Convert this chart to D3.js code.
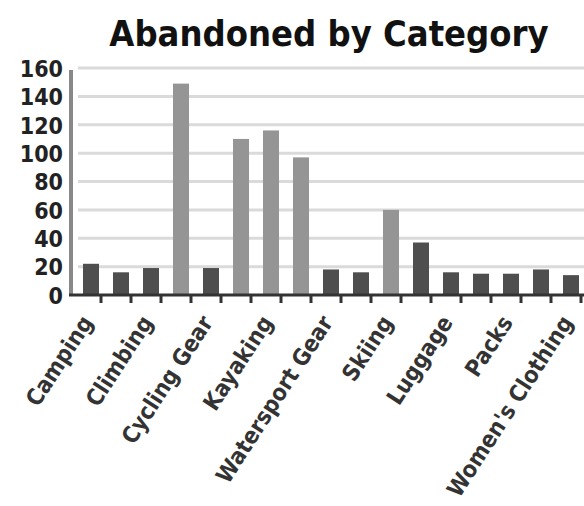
<!DOCTYPE html>
<html>
<head>
<meta charset="utf-8">
<script src="https://cdn.jsdelivr.net/npm/d3@7"></script>
<style>
  body { margin: 0; background: #fff; }
  text { font-family: "Liberation Sans Narrow", "Arial Narrow", "DejaVu Sans Condensed", "DejaVu Sans", sans-serif; font-stretch: condensed; font-weight: bold; fill: #222; }
</style>
</head>
<body>
<div id="chart"></div>
<script>
// categories, only every other one gets a label on the axis
var categories = ["Camping", "Canoeing", "Climbing", "Cycling", "Cycling Gear", "Fishing",
  "Kayaking", "Mountaineering", "Watersport Gear", "Hiking", "Skiing", "Snowboarding",
  "Luggage", "Navigation", "Packs", "Men's Clothing", "Women's Clothing"];
var abandoned = [22, 16, 19, 149, 19, 110, 116, 97, 18, 16, 60, 37, 16, 15, 15, 18, 14];
var yTicks = [0, 20, 40, 60, 80, 100, 120, 140, 160];
var title = "Abandoned by Category";

var width = 584, height = 506;
var svg = d3.select("#chart").append("svg")
  .attr("width", width)
  .attr("height", height);

var data = categories.map(function(c, i) { return {cat: c, val: abandoned[i]}; });

var xScale = d3.scaleBand().domain(categories).range([71, 581]).paddingInner(0).paddingOuter(0);
var yScale = d3.scaleLinear().domain([0, 160]).range([295, 68]);

// title
svg.append("text")
  .attr("x", 329)
  .attr("y", 46)
  .attr("text-anchor", "middle")
  .style("font-size", "36px")
  .style("fill", "#111")
  .text(title);

// gridlines
svg.append("g").attr("id", "grid")
  .selectAll("line")
  .data(yTicks.filter(function(d) { return d > 0; }))
  .enter()
  .append("line")
  .attr("x1", 78)
  .attr("x2", width)
  .attr("y1", function(d) { return yScale(d); })
  .attr("y2", function(d) { return yScale(d); })
  .style("stroke", "#dadada")
  .style("stroke-width", 3);

// y axis
var yAxis = d3.axisLeft(yScale).tickValues(yTicks).tickSize(0).tickPadding(8);
var yG = svg.append("g").attr("id", "yAxisG")
  .attr("transform", "translate(63,0)")
  .call(yAxis);
yG.select(".domain").remove();
yG.selectAll("text")
  .style("font-size", "23px")
  .style("font-family", null)
  .style("fill", "#222")
  .attr("x", 0)
  .attr("dy", "0.36em");

svg.append("line")
  .attr("x1", 71).attr("x2", 71)
  .attr("y1", 70).attr("y2", yScale(0))
  .style("stroke", "#888")
  .style("stroke-width", 4);

// bars
svg.selectAll("rect.bar")
  .data(data)
  .enter()
  .append("rect")
  .attr("class", "bar")
  .attr("x", function(d) { return xScale(d.cat) + 12; })
  .attr("width", 16)
  .attr("y", function(d) { return yScale(d.val); })
  .attr("height", function(d) { return yScale(0) - yScale(d.val); })
  .style("fill", function(d) { return d.val > 50 ? "#959595" : "#4e4e4e"; });

// x axis line and ticks at category boundaries
svg.append("line")
  .attr("x1", 69).attr("x2", width)
  .attr("y1", yScale(0)).attr("y2", yScale(0))
  .style("stroke", "#333")
  .style("stroke-width", 3);

svg.append("g").attr("id", "xTicks")
  .selectAll("line")
  .data(categories)
  .enter()
  .append("line")
  .attr("x1", function(d) { return xScale(d) + xScale.bandwidth(); })
  .attr("x2", function(d) { return xScale(d) + xScale.bandwidth(); })
  .attr("y1", yScale(0))
  .attr("y2", yScale(0) + 8)
  .style("stroke", "#333")
  .style("stroke-width", 3);

// category labels, every other one
svg.append("g").attr("id", "xLabels")
  .selectAll("text")
  .data(categories.filter(function(d, i) { return i % 2 === 0; }))
  .enter()
  .append("text")
  .attr("transform", function(d) {
    return "translate(" + (xScale(d) + 16) + ",318) rotate(-57)";
  })
  .attr("text-anchor", "end")
  .attr("dy", "0.35em")
  .style("font-size", "23px")
  .style("fill", "#333")
  .text(function(d) { return d; });
</script>
</body>
</html>
